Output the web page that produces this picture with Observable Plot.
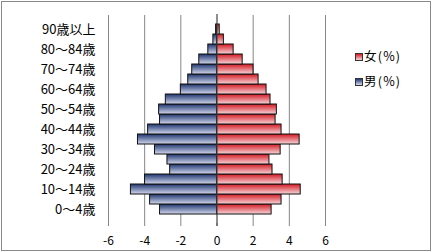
<!DOCTYPE html>
<html><head><meta charset="utf-8">
<script src="https://cdn.jsdelivr.net/npm/d3@7"></script>
<script src="https://cdn.jsdelivr.net/npm/@observablehq/plot@0.6"></script>
<style>
body{margin:0;background:#fff;font-family:"Noto Sans CJK JP","Noto Sans",sans-serif}
#wrap{position:relative;width:433px;height:252px;overflow:hidden}
#border{position:absolute;left:1px;top:1px;width:430px;height:250px;border:1px solid #8a8a8a;box-sizing:border-box;pointer-events:none}
#legend{position:absolute;left:355px;top:43px;font-size:12.5px;line-height:25px;color:#000;letter-spacing:1.2px}
#legend .sw{display:inline-block;width:6px;height:6px;border:1px solid #333;margin-right:1px;vertical-align:0px}
</style></head>
<body><div id="wrap"><div id="chart"></div><div id="legend"></div><div id="border"></div></div>
<script>
const categories = ["0～4歳","5～9歳","10～14歳","15～19歳","20～24歳","25～29歳","30～34歳","35～39歳","40～44歳","45～49歳","50～54歳","55～59歳","60～64歳","65～69歳","70～74歳","75～79歳","80～84歳","85～89歳","90歳以上"];
const male = [-3.15,-3.7,-4.76,-3.98,-2.59,-2.74,-3.43,-4.37,-3.81,-3.15,-3.2,-2.83,-2.0,-1.59,-1.37,-0.98,-0.48,-0.2,-0.05];
const female = [3.02,3.57,4.63,3.63,3.07,2.9,3.52,4.57,3.57,3.24,3.31,2.96,2.74,2.3,2.02,1.42,0.92,0.38,0.15];
const xTicks = [-6,-4,-2,0,2,4,6];
const seriesNames = ["女(%)","男(%)"];

const rows = [];
categories.forEach((c,i)=>{
  rows.push({cat:c, sex:"male", value:male[i]});
  rows.push({cat:c, sex:"female", value:female[i]});
});
const yTicks = categories.filter((c,i)=>i%2===0);

const maleTop = "#1f3670", maleBottom = "#d3d8ee";
const femTop = "#d41a24", femBottom = "#f7d6d9";

const defs = () => {
  const g = d3.create("svg:g");
  const d = g.append("defs");
  const m = d.append("linearGradient").attr("id","gMale").attr("x1",0).attr("y1",0).attr("x2",0).attr("y2",1);
  m.append("stop").attr("offset","0%").attr("stop-color",maleTop);
  m.append("stop").attr("offset","100%").attr("stop-color",maleBottom);
  const f = d.append("linearGradient").attr("id","gFemale").attr("x1",0).attr("y1",0).attr("x2",0).attr("y2",1);
  f.append("stop").attr("offset","0%").attr("stop-color",femTop);
  f.append("stop").attr("offset","100%").attr("stop-color",femBottom);
  return g.node();
};

const chart = Plot.plot({
  width:433, height:252,
  marginLeft:108, marginRight:108, marginTop:15, marginBottom:29,
  style:{fontFamily:'"Noto Sans CJK JP","Noto Sans",sans-serif', fontSize:"12px", color:"#000", background:"transparent"},
  x:{domain:[-6,6], ticks:xTicks, tickSize:3, tickPadding:10, label:null, tickFormat:d=>String(d).replace("−","-")},
  y:{domain:categories.slice().reverse(), ticks:yTicks, tickSize:0, tickPadding:13, label:null, padding:0},
  marks:[
    defs,
    Plot.ruleX(xTicks.filter(d=>d!==0), {stroke:"#868686", strokeWidth:1}),
    Plot.barX(rows.filter(r=>r.sex==="male"), {x:"value", y:"cat", fill:"url(#gMale)", stroke:"#111", strokeWidth:1}),
    Plot.barX(rows.filter(r=>r.sex==="female"), {x:"value", y:"cat", fill:"url(#gFemale)", stroke:"#111", strokeWidth:1}),
    Plot.ruleX([0], {stroke:"#444", strokeWidth:1.2, insetTop:-1, insetBottom:-3})
  ]
});
chart.querySelectorAll('[aria-label="x-axis tick"] path, [aria-label="x-axis tick"]').forEach(e=>e.setAttribute("stroke","#868686"));
chart.querySelectorAll('[aria-label="y-axis tick label"] text, [aria-label="y-axis tick label"]').forEach(e=>e.setAttribute("font-size","13"));
document.getElementById("chart").appendChild(chart);

const lg = document.getElementById("legend");
[`linear-gradient(${femTop},${femBottom})`,`linear-gradient(${maleTop},${maleBottom})`].forEach((bg,i)=>{
  const row = document.createElement("div");
  const sw = document.createElement("span"); sw.className="sw"; sw.style.background=bg;
  row.appendChild(sw);
  row.appendChild(document.createTextNode(seriesNames[i]));
  lg.appendChild(row);
});
</script></body></html>
